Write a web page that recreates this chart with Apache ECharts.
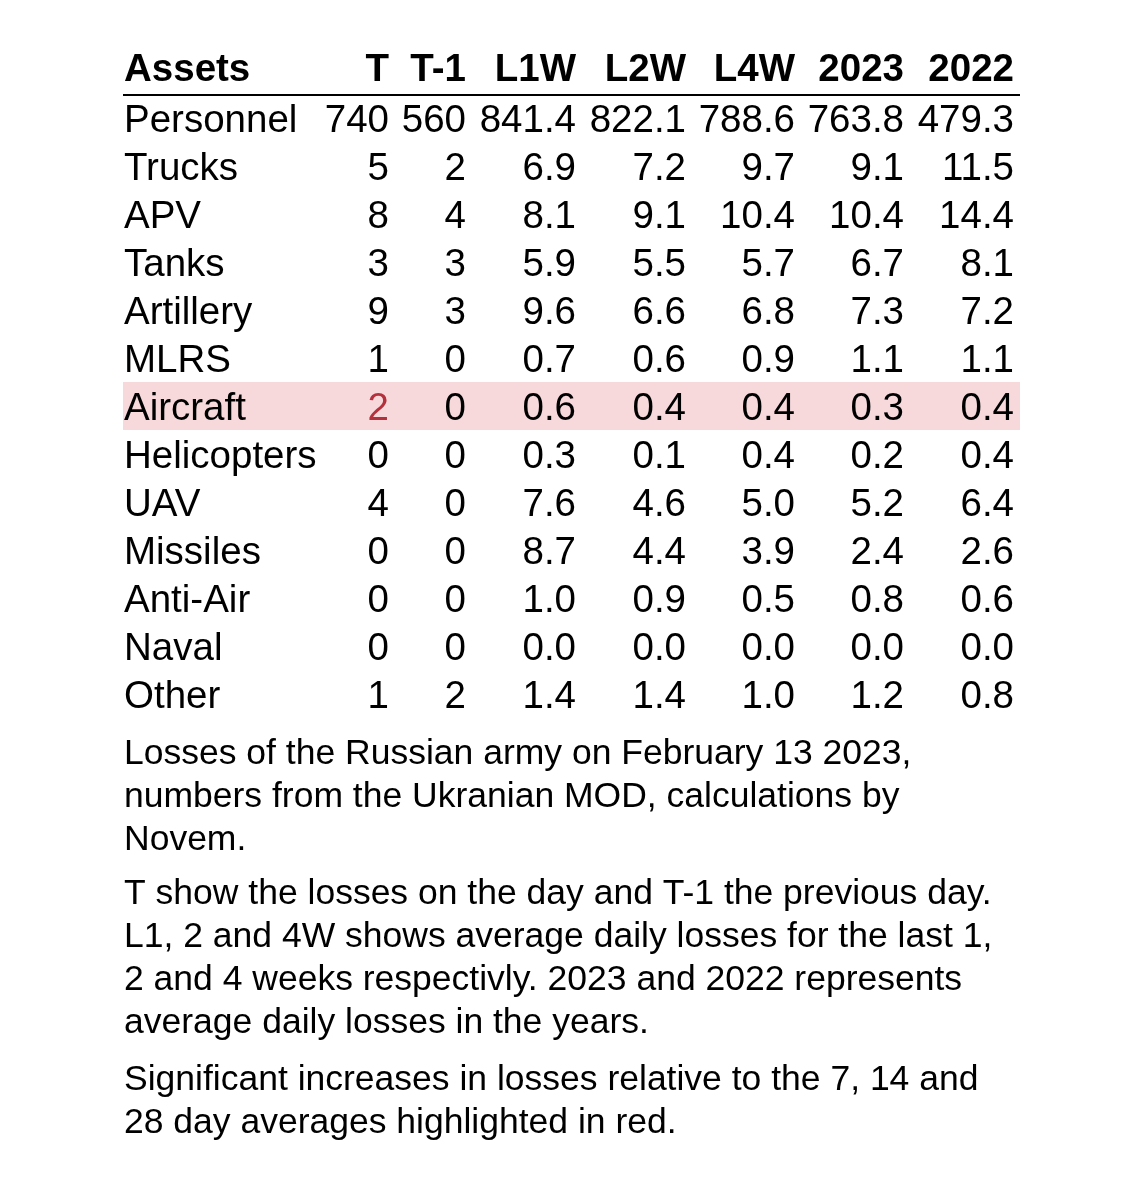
<!DOCTYPE html>
<html><head><meta charset="utf-8">
<script src="https://cdn.jsdelivr.net/npm/echarts@6/dist/echarts.min.js"></script>
<style>body{margin:0;background:#fff}#c{width:1140px;height:1182px}</style>
</head><body><div id="c"></div>
<script>
// table data
const columns = ['T', 'T-1', 'L1W', 'L2W', 'L4W', '2023', '2022'];
const assets = ['Personnel', 'Trucks', 'APV', 'Tanks', 'Artillery', 'MLRS', 'Aircraft',
  'Helicopters', 'UAV', 'Missiles', 'Anti-Air', 'Naval', 'Other'];
const valT   = ['740', '5', '8', '3', '9', '1', '2', '0', '4', '0', '0', '0', '1'];
const valT1  = ['560', '2', '4', '3', '3', '0', '0', '0', '0', '0', '0', '0', '2'];
const valL1W = ['841.4', '6.9', '8.1', '5.9', '9.6', '0.7', '0.6', '0.3', '7.6', '8.7', '1.0', '0.0', '1.4'];
const valL2W = ['822.1', '7.2', '9.1', '5.5', '6.6', '0.6', '0.4', '0.1', '4.6', '4.4', '0.9', '0.0', '1.4'];
const valL4W = ['788.6', '9.7', '10.4', '5.7', '6.8', '0.9', '0.4', '0.4', '5.0', '3.9', '0.5', '0.0', '1.0'];
const val2023 = ['763.8', '9.1', '10.4', '6.7', '7.3', '1.1', '0.3', '0.2', '5.2', '2.4', '0.8', '0.0', '1.2'];
const val2022 = ['479.3', '11.5', '14.4', '8.1', '7.2', '1.1', '0.4', '0.4', '6.4', '2.6', '0.6', '0.0', '0.8'];
const highlightRows = ['Aircraft'];
const redCells = [['Aircraft', 'T']];
const notes = [
  'Losses of the Russian army on February 13 2023,\nnumbers from the Ukranian MOD, calculations by\nNovem.',
  'T show the losses on the day and T-1 the previous day.\nL1, 2 and 4W shows average daily losses for the last 1,\n2 and 4 weeks respectivly. 2023 and 2022 represents\naverage daily losses in the years.',
  'Significant increases in losses relative to the 7, 14 and\n28 day averages highlighted in red.'
];

// layout
const colRight = [389, 466, 576, 686, 795, 904, 1014];
const labelLeft = 124, tableRight = 1020;
const FONT = 'Liberation Sans, Arial, sans-serif';
const cols = [valT, valT1, valL1W, valL2W, valL4W, val2023, val2022];

const data = [];
assets.forEach((a, i) => {
  data.push([-1, i, a]);
  cols.forEach((c, j) => data.push([j, i, c[i]]));
});

const chart = echarts.init(document.getElementById('c'));
chart.setOption({
  animation: false,
  grid: { left: 0, right: 0, top: 95, height: 624 },
  xAxis: { type: 'value', min: 0, max: 1140, show: false },
  yAxis: { type: 'category', data: assets, inverse: true, show: false },
  series: [{
    type: 'custom',
    data: data,
    renderItem: (params, api) => {
      const j = api.value(0), i = api.value(1);
      const txt = data[params.dataIndex][2];
      const asset = assets[i];
      const children = [];
      if (j === -1) {
        const p = api.coord([labelLeft, i]);
        if (highlightRows.includes(asset)) {
          const bw = api.size([0, 1])[1];
          const p2 = api.coord([tableRight, i]);
          children.push({ type: 'rect', shape: { x: p[0] - 1, y: p[1] - bw / 2 - 1, width: p2[0] - p[0] + 1, height: bw },
            style: { fill: '#f7d9dc' } });
        }
        children.push({ type: 'text', x: p[0], y: p[1] + 2,
          style: { text: txt, font: '38.5px ' + FONT, fill: '#000', align: 'left', verticalAlign: 'middle' } });
      } else {
        const p = api.coord([colRight[j], i]);
        const red = redCells.some(r => r[0] === asset && r[1] === columns[j]);
        children.push({ type: 'text', x: p[0], y: p[1] + 2,
          style: { text: txt, font: '38.5px ' + FONT, fill: red ? '#b3313d' : '#000', align: 'right', verticalAlign: 'middle' } });
      }
      return { type: 'group', children: children };
    }
  }],
  graphic: [
    { type: 'text', x: labelLeft, y: 70, style: { text: 'Assets', font: 'bold 38.5px ' + FONT, fill: '#000', verticalAlign: 'middle' } },
    ...columns.map((c, j) => ({ type: 'text', x: colRight[j], y: 70,
      style: { text: c, font: 'bold 38.5px ' + FONT, fill: '#000', align: 'right', verticalAlign: 'middle' } })),
    { type: 'line', shape: { x1: labelLeft - 1, y1: 95, x2: tableRight, y2: 95 }, style: { stroke: '#000', lineWidth: 2 } },
    { type: 'text', x: labelLeft, y: 733, style: { text: notes[0], font: '35.5px ' + FONT, fill: '#000', lineHeight: 43 } },
    { type: 'text', x: labelLeft, y: 873, style: { text: notes[1], font: '35.5px ' + FONT, fill: '#000', lineHeight: 43 } },
    { type: 'text', x: labelLeft, y: 1059, style: { text: notes[2], font: '35.5px ' + FONT, fill: '#000', lineHeight: 43 } }
  ]
});
</script></body></html>
